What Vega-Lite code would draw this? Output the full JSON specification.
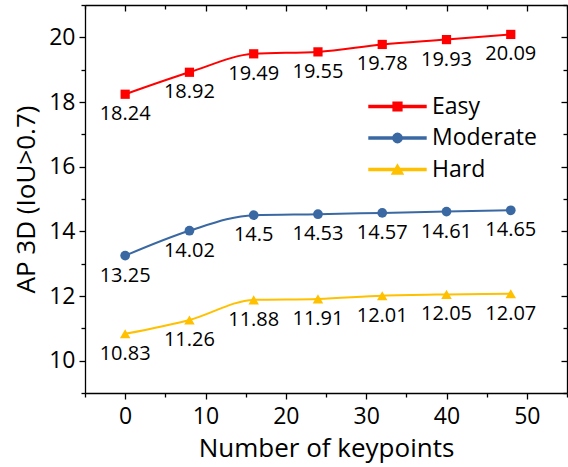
{
  "$schema": "https://vega.github.io/schema/vega-lite/v6.json",
  "width": 482,
  "height": 388,
  "autosize": {"type": "none"},
  "padding": {"left": 85, "top": 5, "right": 1, "bottom": 74},
  "background": "white",
  "config": {
    "font": "Open Sans",
    "view": {"stroke": null},
    "axis": {
      "domainColor": "black", "domainWidth": 1.3,
      "tickColor": "black", "tickWidth": 1.3,
      "labelColor": "black", "titleColor": "black",
      "labelFont": "Open Sans", "titleFont": "Open Sans",
      "labelFontSize": 23, "titleFontSize": 26, "titleFontWeight": "normal",
      "grid": false, "labelOverlap": false, "labelFlush": false
    }
  },
  "data": {
    "values": [
      {"k": 0, "ap": 18.24, "level": "Easy"},
      {"k": 8, "ap": 18.92, "level": "Easy"},
      {"k": 16, "ap": 19.49, "level": "Easy"},
      {"k": 24, "ap": 19.55, "level": "Easy"},
      {"k": 32, "ap": 19.78, "level": "Easy"},
      {"k": 40, "ap": 19.93, "level": "Easy"},
      {"k": 48, "ap": 20.09, "level": "Easy"},
      {"k": 0, "ap": 13.25, "level": "Moderate"},
      {"k": 8, "ap": 14.02, "level": "Moderate"},
      {"k": 16, "ap": 14.5, "level": "Moderate"},
      {"k": 24, "ap": 14.53, "level": "Moderate"},
      {"k": 32, "ap": 14.57, "level": "Moderate"},
      {"k": 40, "ap": 14.61, "level": "Moderate"},
      {"k": 48, "ap": 14.65, "level": "Moderate"},
      {"k": 0, "ap": 10.83, "level": "Hard"},
      {"k": 8, "ap": 11.26, "level": "Hard"},
      {"k": 16, "ap": 11.88, "level": "Hard"},
      {"k": 24, "ap": 11.91, "level": "Hard"},
      {"k": 32, "ap": 12.01, "level": "Hard"},
      {"k": 40, "ap": 12.05, "level": "Hard"},
      {"k": 48, "ap": 12.07, "level": "Hard"}
    ]
  },
  "resolve": {"axis": {"x": "independent", "y": "independent"}},
  "layer": [
    {
      "mark": {"type": "line", "interpolate": "monotone", "strokeWidth": 2},
      "encoding": {
        "x": {
          "field": "k", "type": "quantitative",
          "scale": {"domain": [-5, 55], "nice": false, "zero": false},
          "axis": {
            "orient": "bottom", "title": "Number of keypoints",
            "values": [-5, 0, 5, 10, 15, 20, 25, 30, 35, 40, 45, 50, 55],
            "labelExpr": "datum.value % 10 === 0 ? datum.label : ''",
            "tickSize": {"condition": {"test": "datum.value % 10 === 0", "value": 6}, "value": 4},
            "labelPadding": 6, "titlePadding": 7
          }
        },
        "y": {
          "field": "ap", "type": "quantitative",
          "scale": {"domain": [9, 21], "nice": false, "zero": false},
          "axis": {
            "orient": "left", "title": "AP 3D (IoU>0.7)",
            "values": [9, 10, 11, 12, 13, 14, 15, 16, 17, 18, 19, 20, 21],
            "labelExpr": "datum.value % 2 === 0 ? datum.label : ''",
            "tickSize": {"condition": {"test": "datum.value % 2 === 0", "value": 6}, "value": 4},
            "labelPadding": 4, "titlePadding": 9
          }
        },
        "color": {
          "field": "level", "type": "nominal",
          "scale": {"domain": ["Easy", "Moderate", "Hard"], "range": ["#FF0000", "#3A68A2", "#FFC000"]}
        }
      }
    },
    {
      "transform": [{"filter": "datum.level === 'Easy'"}],
      "mark": {"type": "point", "filled": true, "opacity": 1, "size": 85, "shape": "square"},
      "encoding": {
        "x": {
          "field": "k", "type": "quantitative",
          "axis": {
            "orient": "top", "title": null,
            "values": [-5, 0, 5, 10, 15, 20, 25, 30, 35, 40, 45, 50, 55],
            "labels": false,
            "tickSize": {"condition": {"test": "datum.value % 10 === 0", "value": -6}, "value": -4}
          }
        },
        "y": {
          "field": "ap", "type": "quantitative",
          "axis": {
            "orient": "right", "title": null,
            "values": [9, 10, 11, 12, 13, 14, 15, 16, 17, 18, 19, 20, 21],
            "labels": false,
            "tickSize": {"condition": {"test": "datum.value % 2 === 0", "value": -6}, "value": -4}
          }
        },
        "color": {"field": "level", "type": "nominal"}
      }
    },
    {
      "transform": [{"filter": "datum.level === 'Moderate'"}],
      "mark": {"type": "point", "filled": true, "opacity": 1, "size": 95, "shape": "circle"},
      "encoding": {
        "x": {"field": "k", "type": "quantitative", "axis": null},
        "y": {"field": "ap", "type": "quantitative", "axis": null},
        "color": {"field": "level", "type": "nominal"}
      }
    },
    {
      "transform": [{"filter": "datum.level === 'Hard'"}],
      "mark": {"type": "point", "filled": true, "opacity": 1, "size": 110, "shape": "triangle-up"},
      "encoding": {
        "x": {"field": "k", "type": "quantitative", "axis": null},
        "y": {"field": "ap", "type": "quantitative", "axis": null},
        "color": {"field": "level", "type": "nominal"}
      }
    },
    {
      "transform": [{"filter": "datum.k < -100"}],
      "mark": {"type": "point", "filled": true, "opacity": 1, "size": 90},
      "encoding": {
        "x": {"field": "k", "type": "quantitative", "axis": null},
        "y": {"field": "ap", "type": "quantitative", "axis": null},
        "color": {
          "field": "level", "type": "nominal",
          "legend": {
            "title": null, "orient": "none", "legendX": 301, "legendY": 90,
            "symbolSize": 90, "symbolOpacity": 1,
            "labelFontSize": 23, "labelFont": "Open Sans", "labelColor": "black",
            "labelOffset": 23, "rowPadding": 7.5, "padding": 0
          }
        },
        "shape": {
          "field": "level", "type": "nominal",
          "scale": {
            "domain": ["Easy", "Moderate", "Hard"],
            "range": [
              "M-6,-0.21H6V0.21H-6ZM-0.92,-0.92H0.92V0.92H-0.92Z",
              "M-6,-0.21H6V0.21H-6ZM0.98,0A0.98,0.98,0,1,1,-0.98,0A0.98,0.98,0,1,1,0.98,0Z",
              "M-6,-0.21H6V0.21H-6ZM0,-1L1.15,0.95H-1.15Z"
            ]
          },
          "legend": {
            "title": null, "orient": "none", "legendX": 301, "legendY": 90,
            "symbolSize": 90, "symbolOpacity": 1,
            "labelFontSize": 23, "labelFont": "Open Sans", "labelColor": "black",
            "labelOffset": 23, "rowPadding": 7.5, "padding": 0
          }
        }
      }
    },
    {
      "mark": {"type": "text", "dy": 20, "fontSize": 20, "font": "Open Sans", "color": "black", "baseline": "middle"},
      "encoding": {
        "x": {"field": "k", "type": "quantitative", "axis": null},
        "y": {"field": "ap", "type": "quantitative", "axis": null},
        "text": {"field": "ap", "type": "quantitative"}
      }
    }
  ]
}
